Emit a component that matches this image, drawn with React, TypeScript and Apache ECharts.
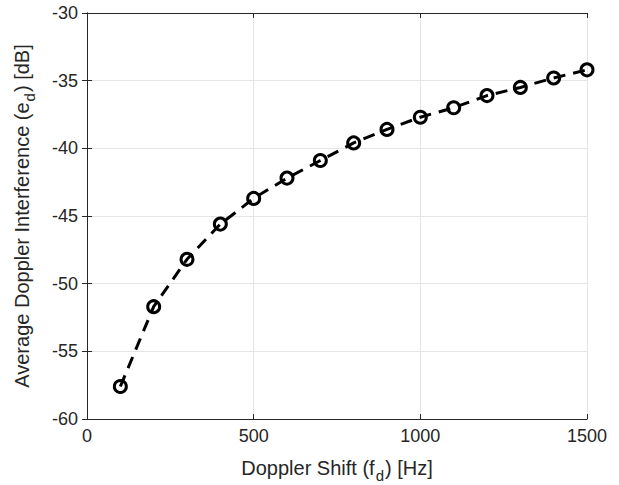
import React, { useEffect, useRef } from "react";
import * as echarts from "echarts";

const dopplerShiftHz = [100, 200, 300, 400, 500, 600, 700, 800, 900, 1000, 1100, 1200, 1300, 1400, 1500];
const avgInterferenceDb = [-57.6, -51.7, -48.2, -45.6, -43.7, -42.2, -40.9, -39.6, -38.6, -37.7, -37.0, -36.1, -35.5, -34.8, -34.2];
const xTicks = [0, 500, 1000, 1500];
const yTicks = [-60, -55, -50, -45, -40, -35, -30];

const FONT = "'Liberation Sans', Arial, Helvetica, sans-serif";
const AXIS_COLOR = "#262626";
const GRID_COLOR = "#e5e5e5";

export default function App() {
  const ref = useRef<HTMLDivElement>(null);
  useEffect(() => {
    if (!ref.current) return;
    const chart = echarts.init(ref.current, undefined, { renderer: "svg" });
    const rich = {
      sub: { fontSize: 15, fontFamily: FONT, color: AXIS_COLOR, padding: [16, 1, 0, 1] },
    };
    const commonAxisLine = { show: true, lineStyle: { color: AXIS_COLOR, width: 1 } };
    const fmt = (v: number) => String(v);
    chart.setOption({
      animation: false,
      backgroundColor: "#ffffff",
      grid: { left: 87, right: 32, top: 13, bottom: 66, containLabel: false, outerBoundsMode: "none" },
      xAxis: [
        {
          type: "value",
          min: xTicks[0],
          max: xTicks[xTicks.length - 1],
          interval: 500,
          position: "bottom",
          axisLine: commonAxisLine,
          axisTick: { show: true, inside: true, length: 5, lineStyle: { color: AXIS_COLOR } },
          splitLine: { show: true, lineStyle: { color: GRID_COLOR, width: 1 } },
          axisLabel: { color: AXIS_COLOR, fontSize: 18, fontFamily: FONT, margin: 8, formatter: fmt },
          name: "Doppler Shift (f{sub|d}) [Hz]",
          nameLocation: "middle",
          nameGap: 33,
          nameTextStyle: { color: AXIS_COLOR, fontSize: 20, fontFamily: FONT, rich },
        },
        {
          type: "value",
          min: xTicks[0],
          max: xTicks[xTicks.length - 1],
          interval: 500,
          position: "top",
          axisLine: commonAxisLine,
          axisTick: { show: true, inside: true, length: 5, lineStyle: { color: AXIS_COLOR } },
          splitLine: { show: false },
          axisLabel: { show: false },
        },
      ],
      yAxis: [
        {
          type: "value",
          min: yTicks[0],
          max: yTicks[yTicks.length - 1],
          interval: 5,
          position: "left",
          axisLine: commonAxisLine,
          axisTick: { show: true, inside: true, length: 5, lineStyle: { color: AXIS_COLOR } },
          splitLine: { show: true, lineStyle: { color: GRID_COLOR, width: 1 } },
          axisLabel: { color: AXIS_COLOR, fontSize: 18, fontFamily: FONT, margin: 9, formatter: fmt },
          name: "Average Doppler Interference (e{sub|d}) [dB]",
          nameLocation: "middle",
          nameGap: 50,
          nameRotate: 90,
          nameTextStyle: { color: AXIS_COLOR, fontSize: 20, fontFamily: FONT, rich },
        },
        {
          type: "value",
          min: yTicks[0],
          max: yTicks[yTicks.length - 1],
          interval: 5,
          position: "right",
          axisLine: commonAxisLine,
          axisTick: { show: true, inside: true, length: 5, lineStyle: { color: AXIS_COLOR } },
          splitLine: { show: false },
          axisLabel: { show: false },
        },
      ],
      series: [
        {
          type: "line",
          data: dopplerShiftHz.map((x, i) => [x, avgInterferenceDb[i]]),
          lineStyle: { color: "#000000", width: 3, type: [12, 8] },
          symbol: "circle",
          symbolSize: 12,
          itemStyle: { color: "rgba(255,255,255,0)", borderColor: "#000000", borderWidth: 3 },
          showSymbol: true,
        },
      ],
    });
    return () => chart.dispose();
  }, []);
  return <div ref={ref} style={{ width: 619, height: 485, position: "absolute", left: 0, top: 0 }} />;
}
